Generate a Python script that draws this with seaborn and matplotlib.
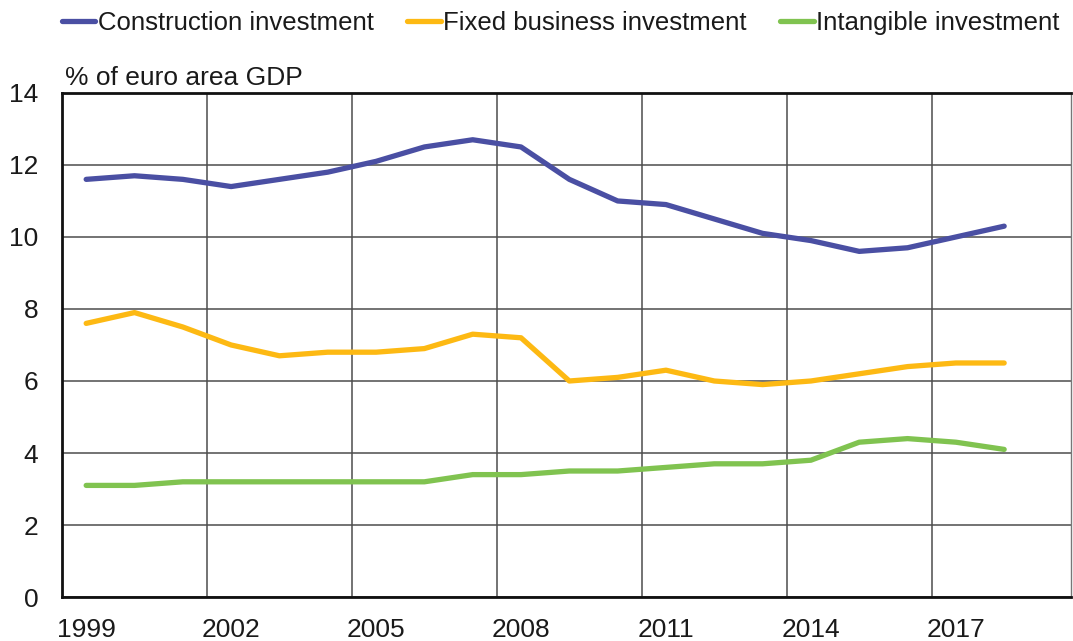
import matplotlib
matplotlib.use("Agg")
import matplotlib.pyplot as plt
import seaborn as sns
import pandas as pd
from matplotlib.lines import Line2D

years = list(range(1999, 2019))
construction = [11.6, 11.7, 11.6, 11.4, 11.6, 11.8, 12.1, 12.5, 12.7, 12.5,
                11.6, 11.0, 10.9, 10.5, 10.1, 9.9, 9.6, 9.7, 10.0, 10.3]
fixed_business = [7.6, 7.9, 7.5, 7.0, 6.7, 6.8, 6.8, 6.9, 7.3, 7.2,
                  6.0, 6.1, 6.3, 6.0, 5.9, 6.0, 6.2, 6.4, 6.5, 6.5]
intangible = [3.1, 3.1, 3.2, 3.2, 3.2, 3.2, 3.2, 3.2, 3.4, 3.4,
              3.5, 3.5, 3.6, 3.7, 3.7, 3.8, 4.3, 4.4, 4.3, 4.1]
series_names = ["Construction investment", "Fixed business investment", "Intangible investment"]
colors = ["#4a4fa3", "#fdb913", "#80c350"]
x_tick_labels = ["1999", "2002", "2005", "2008", "2011", "2014", "2017"]
y_ticks = [0, 2, 4, 6, 8, 10, 12, 14]
y_label = "% of euro area GDP"

df = pd.DataFrame({
    "year": years * 3,
    "value": construction + fixed_business + intangible,
    "series": [series_names[0]] * 20 + [series_names[1]] * 20 + [series_names[2]] * 20,
})

sns.set_theme(style="white")
plt.rcParams["font.family"] = ["Liberation Sans", "DejaVu Sans"]
FS = 19

fig = plt.figure(figsize=(10.73, 6.41), dpi=100)
ax = fig.add_axes([0.0578, 0.0686, 0.998 - 0.0578, 0.855 - 0.0686])

sns.lineplot(data=df, x="year", y="value", hue="series", hue_order=series_names,
             palette=colors, linewidth=3.8, ax=ax, legend=False, zorder=3)

ax.set_xlim(1998.5, 2019.38)
ax.set_ylim(0, 14)
ax.set_yticks(y_ticks)
ax.set_yticklabels([str(v) for v in y_ticks], fontsize=FS, color="#1a1a1a")
ax.tick_params(axis="y", length=0, pad=17)
ax.yaxis.grid(True, color="#4d4d4d", linewidth=1.1, zorder=1)
for xv in [2001.5, 2004.5, 2007.5, 2010.5, 2013.5, 2016.5]:
    ax.axvline(xv, color="#4d4d4d", linewidth=1.1, zorder=1)
ax.set_xticks([int(t) for t in x_tick_labels])
ax.set_xticklabels(x_tick_labels, fontsize=FS, color="#1a1a1a")
ax.tick_params(axis="x", which="major", length=0, pad=15)
ax.set_xticks([1998.5 + k for k in range(1, 21)], minor=True)
ax.tick_params(axis="x", which="minor", direction="in", length=5, width=1, color="#333333")
ax.set_xlabel("")
ax.set_ylabel("")

for side in ["left", "bottom", "top"]:
    ax.spines[side].set_visible(True)
    ax.spines[side].set_color("#111111")
    ax.spines[side].set_linewidth(2.0)
ax.spines["right"].set_color("#777777")
ax.spines["right"].set_linewidth(1.0)

ax.text(0.003, 1.006, y_label, transform=ax.transAxes, fontsize=FS, ha="left", va="bottom",
        color="#1a1a1a")

handles = [Line2D([0], [0], color=c, linewidth=3.8) for c in colors]
fig.legend(handles, series_names, loc="upper left", bbox_to_anchor=(0.0578, 0.983), ncol=3,
           frameon=False, handlelength=1.3, handletextpad=0.1, columnspacing=1.3,
           borderpad=0, borderaxespad=0, fontsize=18.5, labelcolor="#1a1a1a")

fig.savefig("out.png", dpi=100)
